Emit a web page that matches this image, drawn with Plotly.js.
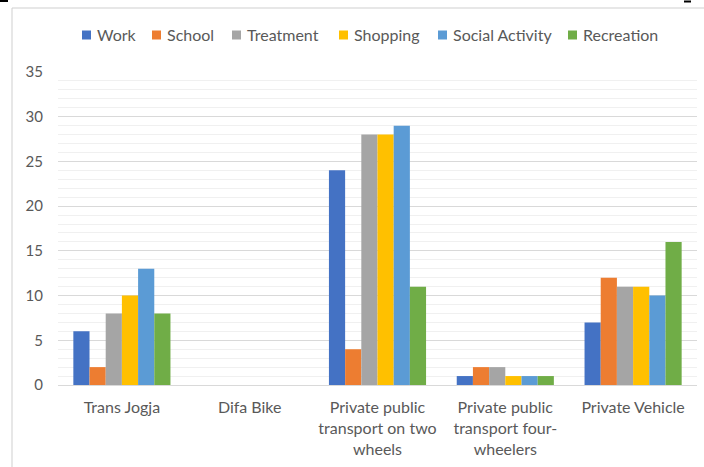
<!DOCTYPE html>
<html><head><meta charset="utf-8">
<script src="https://cdn.plot.ly/plotly-3.0.1.min.js"></script>
<style>html,body{margin:0;padding:0;background:#fff}#c{width:704px;height:467px}</style>
</head><body><div id="c"></div>
<script>
var categories = ["Trans Jogja", "Difa Bike", "Private public<br>transport on two<br>wheels", "Private public<br>transport four-<br>wheelers", "Private Vehicle"];
var seriesNames = ["Work", "School", "Treatment", "Shopping", "Social Activity", "Recreation"];
var work = [6, 0, 24, 1, 7];
var school = [2, 0, 4, 2, 12];
var treatment = [8, 0, 28, 2, 11];
var shopping = [10, 0, 28, 1, 11];
var social = [13, 0, 29, 1, 10];
var recreation = [8, 0, 11, 1, 16];
var colors = ["#4472C4", "#ED7D31", "#A5A5A5", "#FFC000", "#5B9BD5", "#70AD47"];
var values = [work, school, treatment, shopping, social, recreation];

// layout geometry (pixels)
var W = 704, H = 467, ML = 58, MR = 7, MT = 72, MB = 82;
var PW = W - ML - MR, PH = H - MT - MB;
function px2x(p){ return (p - ML) / PW; }
function py2y(p){ return (H - MB - p) / PH; }
var legendSquareLeft = [82, 152, 232, 339, 438, 568];
var legendY = 35, sq = 9;

var traces = seriesNames.map(function(n, i){
  return {type:'bar', name:n, x:categories, y:values[i], marker:{color:colors[i]}, showlegend:false};
});
var font = "Lato, 'Open Sans', sans-serif";
var shapes = [
  {type:'line', xref:'paper', yref:'paper', x0:px2x(12), x1:px2x(12), y0:py2y(8), y1:py2y(H), line:{color:'#CFCFCF', width:1}},
  {type:'line', xref:'paper', yref:'paper', x0:px2x(12), x1:px2x(W), y0:py2y(8), y1:py2y(8), line:{color:'#CFCFCF', width:1}},
  {type:'line', xref:'paper', yref:'paper', x0:px2x(0), x1:px2x(8), y0:py2y(1), y1:py2y(1), line:{color:'#000', width:2}},
  {type:'line', xref:'paper', yref:'paper', x0:px2x(684), x1:px2x(691), y0:py2y(1.5), y1:py2y(1.5), line:{color:'#000', width:2}}
];
var annotations = [];
seriesNames.forEach(function(n, i){
  var l = legendSquareLeft[i];
  shapes.push({type:'rect', xref:'paper', yref:'paper', x0:px2x(l), x1:px2x(l+sq), y0:py2y(legendY+sq/2), y1:py2y(legendY-sq/2), line:{width:0}, fillcolor:colors[i]});
  annotations.push({xref:'paper', yref:'paper', x:px2x(l+sq+4), y:py2y(legendY), xanchor:'left', yanchor:'middle', text:n, showarrow:false, font:{size:16, color:'#595959', family:font}});
});
Plotly.newPlot('c', traces, {
  width:W, height:H,
  margin:{l:ML, r:MR, t:MT, b:MB},
  paper_bgcolor:'#fff', plot_bgcolor:'#fff',
  barmode:'group', bargap:0.24, bargroupgap:0,
  font:{family:font, size:16, color:'#595959'},
  showlegend:false,
  xaxis:{showgrid:false, zeroline:false, showline:true, linecolor:'#D9D9D9', ticks:'', ticklabelstandoff:8, tickfont:{size:16, color:'#595959'}},
  yaxis:{range:[0,35], dtick:5, showgrid:true, gridcolor:'#D9D9D9', gridwidth:1, zeroline:false, ticks:'', ticklabelstandoff:14, tickfont:{size:15, color:'#595959'},
    minor:{dtick:1, showgrid:true, gridcolor:'#F0F0F0', gridwidth:1}},
  shapes:shapes,
  annotations:annotations
}, {displayModeBar:false, staticPlot:true});
</script></body></html>
